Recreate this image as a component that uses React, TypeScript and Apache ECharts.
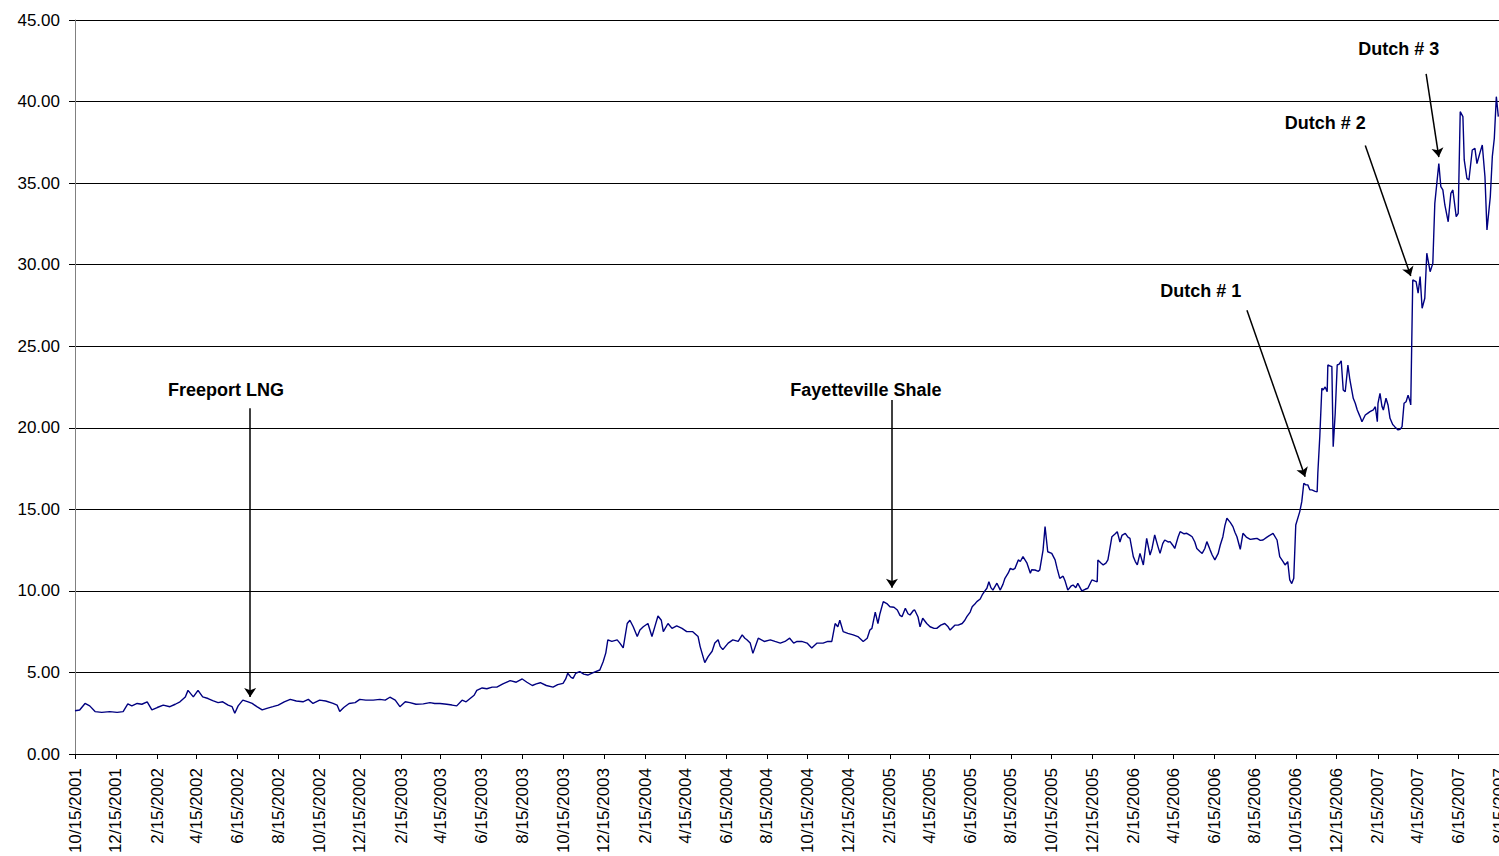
import React, { useEffect, useRef } from "react";
import * as echarts from "echarts";

const START = Date.UTC(2001, 9, 15);
const DAY = 86400000;
const END_DAY = 2130; // 8/15/2007

// observations: [days since 10/15/2001, price]
const obs2001_2002: [number, number][] = [[0,2.65],[7,2.7],[15,3.1],[22,2.95],[30,2.6],[40,2.55],[52,2.6],[63,2.55],[72,2.6],[79,3.07],[85,2.95],[93,3.1],[100,3.05],[108,3.2],[115,2.7],[123,2.85],[132,3.0],[142,2.9],[150,3.05],[157,3.2],[165,3.5],[169,3.9],[177,3.5],[184,3.9],[191,3.5],[199,3.4],[206,3.27],[214,3.15],[221,3.2],[229,3.0],[235,2.9],[239,2.5],[244,2.95],[251,3.3],[259,3.2],[265,3.1],[272,2.9],[280,2.7],[287,2.8],[296,2.9],[304,3.0],[313,3.2],[322,3.35],[331,3.25],[341,3.2],[349,3.35],[356,3.1],[366,3.3],[375,3.25],[386,3.1],[392,3.0],[396,2.6],[402,2.85],[410,3.1],[419,3.15],[426,3.35],[435,3.3]];

const obs2003: [number, number][] = [[446,3.3],[456,3.35],[464,3.3],[471,3.48],[479,3.3],[486,2.9],[494,3.2],[501,3.15],[510,3.05],[521,3.07],[531,3.15],[538,3.1],[546,3.1],[556,3.05],[564,3.0],[571,2.95],[579,3.3],[585,3.2],[591,3.4],[597,3.6],[601,3.9],[609,4.05],[616,4.0],[624,4.1],[631,4.1],[640,4.3],[651,4.5],[660,4.4],[669,4.6],[676,4.4],[684,4.2],[690,4.3],[696,4.37],[705,4.2],[715,4.1],[722,4.25],[730,4.33],[734,4.6],[737,4.95],[742,4.7],[745,4.64],[749,4.95],[755,5.05],[761,4.9],[767,4.84],[776,5.0],[785,5.15],[790,5.66],[794,6.2],[797,7.0]];

const obs2004: [number, number][] = [[803,6.9],[811,7.0],[815,6.8],[820,6.5],[826,8.0],[830,8.2],[835,7.8],[841,7.2],[845,7.6],[850,7.8],[857,8.0],[863,7.2],[868,7.9],[872,8.46],[877,8.2],[880,7.5],[887,8.0],[893,7.7],[900,7.85],[908,7.7],[915,7.5],[924,7.5],[932,7.2],[935,6.6],[938,6.17],[942,5.6],[947,5.97],[953,6.3],[957,6.8],[962,7.0],[965,6.6],[969,6.4],[977,6.8],[984,7.0],[992,6.9],[998,7.3],[1002,7.1],[1005,7.0],[1010,6.8],[1014,6.17],[1022,7.1],[1031,6.9],[1040,7.0],[1047,6.9],[1055,6.8],[1062,6.9],[1069,7.1],[1075,6.8],[1080,6.9],[1087,6.9],[1095,6.8],[1102,6.5],[1110,6.8],[1119,6.8],[1126,6.9],[1132,6.9],[1137,8.0],[1141,7.8],[1144,8.2],[1149,7.5],[1156,7.4],[1164,7.3]];

const obs2005: [number, number][] = [[1171,7.2],[1179,6.9],[1185,7.1],[1189,7.6],[1192,7.7],[1197,8.7],[1201,8.0],[1204,8.6],[1209,9.34],[1215,9.2],[1219,9.03],[1225,9.0],[1230,8.83],[1234,8.5],[1237,8.42],[1242,8.93],[1246,8.6],[1249,8.52],[1254,8.8],[1256,8.83],[1261,8.4],[1264,7.8],[1268,8.32],[1274,8.0],[1279,7.8],[1285,7.7],[1289,7.7],[1295,7.9],[1301,8.0],[1306,7.8],[1309,7.6],[1316,7.9],[1321,7.9],[1327,8.0],[1331,8.2],[1334,8.42],[1339,8.7],[1342,9.03],[1346,9.2],[1349,9.34],[1354,9.5],[1357,9.75],[1361,10.0],[1364,10.16],[1367,10.56],[1370,10.2],[1373,10.05],[1379,10.47],[1384,10.05],[1388,10.4],[1391,10.77],[1396,11.1],[1399,11.38],[1403,11.3],[1406,11.38],[1411,11.9],[1414,11.8],[1418,12.1],[1421,11.9],[1424,11.7],[1429,11.08],[1431,11.3],[1436,11.28],[1441,11.2],[1443,11.28],[1448,12.5],[1451,13.94],[1455,12.4],[1461,12.3],[1466,11.9],[1469,11.38],[1473,10.77],[1478,10.9],[1481,10.6],[1485,10.05],[1490,10.3],[1493,10.36],[1497,10.2],[1500,10.46],[1506,10.0],[1511,10.1],[1515,10.16],[1521,10.67],[1526,10.6],[1529,10.56]];

const obs2006: [number, number][] = [[1530,11.9],[1535,11.7],[1538,11.59],[1542,11.7],[1545,11.9],[1548,12.6],[1551,13.32],[1556,13.5],[1559,13.63],[1563,13.0],[1566,13.4],[1571,13.53],[1575,13.3],[1578,13.22],[1583,12.1],[1586,11.8],[1589,11.59],[1593,12.3],[1598,11.59],[1603,13.22],[1608,12.2],[1611,12.6],[1615,13.43],[1620,12.7],[1623,12.3],[1627,12.9],[1630,13.12],[1635,13.0],[1638,13.02],[1642,12.8],[1645,12.6],[1650,13.3],[1653,13.63],[1659,13.5],[1663,13.53],[1668,13.4],[1671,13.32],[1675,13.0],[1678,12.6],[1683,12.4],[1686,12.3],[1690,12.6],[1693,13.02],[1698,12.5],[1701,12.2],[1705,11.9],[1710,12.3],[1713,12.8],[1717,13.32],[1720,14.0],[1723,14.45],[1728,14.2],[1732,13.94],[1735,13.6],[1738,13.32],[1743,12.55],[1747,13.53],[1752,13.3],[1758,13.16],[1764,13.2],[1768,13.22],[1773,13.1],[1777,13.12],[1783,13.3],[1787,13.4],[1792,13.53],[1798,13.12],[1802,12.1],[1807,11.8],[1810,11.59],[1814,11.79],[1817,10.67],[1820,10.45],[1823,10.77],[1826,14.04],[1832,14.86],[1835,15.47],[1838,16.6],[1841,16.5],[1844,16.5],[1847,16.2],[1850,16.19],[1855,16.1],[1858,16.08],[1859,17.21],[1862,19.5],[1865,22.42],[1867,22.32],[1870,22.5],[1873,22.21],[1874,23.85],[1877,23.8],[1880,23.75],[1882,18.84],[1885,20.89],[1888,23.85],[1891,23.9],[1894,24.11],[1897,22.32],[1900,22.21]];

const obs2007: [number, number][] = [[1904,23.85],[1907,22.93],[1912,21.81],[1915,21.5],[1918,21.09],[1922,20.7],[1925,20.37],[1930,20.78],[1934,20.9],[1937,20.99],[1942,21.1],[1945,21.29],[1948,20.37],[1949,21.5],[1952,22.11],[1955,21.3],[1957,21.09],[1961,21.81],[1964,21.4],[1967,20.58],[1971,20.2],[1974,20.07],[1979,19.87],[1982,19.9],[1985,20.07],[1988,21.5],[1991,21.6],[1994,22.0],[1997,21.6],[1998,21.4],[2001,29.06],[2006,28.96],[2009,28.25],[2012,29.27],[2015,27.33],[2019,27.94],[2022,30.7],[2027,29.57],[2031,30.08],[2034,33.76],[2037,34.98],[2040,36.2],[2043,34.78],[2046,34.58],[2049,33.66],[2054,32.63],[2058,34.37],[2061,34.58],[2066,32.94],[2069,33.15],[2072,39.38],[2076,39.08],[2078,36.42],[2082,35.29],[2085,35.19],[2090,37.03],[2094,37.13],[2097,36.2],[2102,36.93],[2105,37.34],[2109,35.39],[2112,32.13],[2117,34.17],[2120,36.62],[2123,37.75],[2126,40.3],[2129,39.08]];

// annotations: text, label anchor [day, value], arrow from [day, value] to [day, value]
const annotationTexts = ["Freeport LNG", "Fayetteville Shale", "Dutch # 1", "Dutch # 2", "Dutch # 3"];
const annotationLabelAt: [number, number][] = [[226, 22.3], [1183, 22.3], [1684, 28.4], [1870, 38.7], [1980, 43.2]];
const annotationArrowFrom: [number, number][] = [[262, 21.2], [1222, 21.7], [1753, 27.2], [1930, 37.3], [2021, 41.7]];
const annotationArrowTo: [number, number][] = [[262, 3.5], [1222, 10.2], [1840, 17.0], [1998, 29.3], [2040, 36.6]];

const FONT = "'Liberation Sans', Arial, Helvetica, sans-serif";

function dayToLabel(v: number): string {
  const d = new Date(START + Math.round(v) * DAY);
  return `${d.getUTCMonth() + 1}/${d.getUTCDate()}/${d.getUTCFullYear()}`;
}

export default function App() {
  const ref = useRef<HTMLDivElement>(null);
  useEffect(() => {
    if (!ref.current) return;
    document.documentElement.style.overflow = "hidden";
    document.body.style.overflow = "hidden";
    document.body.style.margin = "0";
    const chart = echarts.init(ref.current, null, { renderer: "svg", width: 1499, height: 856 });
    const data = [...obs2001_2002, ...obs2003, ...obs2004, ...obs2005, ...obs2006, ...obs2007];
    const tickDays: number[] = [];
    for (let i = 0; ; i++) {
      const t = Date.UTC(2001, 9 + 2 * i, 15);
      const d = Math.round((t - START) / DAY);
      if (d > END_DAY) break;
      tickDays.push(d);
    }
    chart.setOption({
      animation: false,
      grid: { left: 75, right: 0, top: 20, bottom: 102, containLabel: false, outerBoundsMode: "none" },
      xAxis: {
        type: "value",
        min: 0,
        max: END_DAY,
        axisLine: { show: true, lineStyle: { color: "#000", width: 1 } },
        axisTick: { show: true, customValues: tickDays, length: 5, lineStyle: { color: "#000" } },
        axisLabel: {
          customValues: tickDays,
          rotate: 90,
          margin: 14,
          fontSize: 17,
          fontFamily: FONT,
          color: "#000",
          formatter: (v: number) => dayToLabel(v),
          showMinLabel: true,
          showMaxLabel: true,
          hideOverlap: false,
        },
        splitLine: { show: false },
      },
      yAxis: {
        type: "value",
        min: 0,
        max: 45,
        interval: 5,
        axisLine: { show: true, lineStyle: { color: "#808080", width: 1 } },
        axisTick: { show: true, length: 6, lineStyle: { color: "#000" } },
        axisLabel: {
          margin: 15,
          fontSize: 17,
          fontFamily: FONT,
          color: "#000",
          formatter: (v: number) => v.toFixed(2),
        },
        splitLine: { show: true, lineStyle: { color: "#000", width: 1 } },
      },
      series: [
        {
          type: "line",
          data,
          showSymbol: false,
          symbol: "none",
          lineStyle: { color: "#000080", width: 1.4 },
          itemStyle: { color: "#000080" },
          silent: true,
          markLine: {
            silent: true,
            symbol: ["none", "arrow"],
            symbolSize: 9,
            label: { show: false },
            lineStyle: { color: "#000", width: 1.5, type: "solid" },
            emphasis: { disabled: true },
            data: annotationArrowFrom.map((f, i) => [
              { coord: f },
              { coord: annotationArrowTo[i] },
            ]),
          },
          markPoint: {
            silent: true,
            symbol: "circle",
            symbolSize: 1,
            itemStyle: { color: "rgba(0,0,0,0)" },
            label: {
              show: true,
              position: "inside",
              formatter: "{b}",
              fontSize: 18,
              fontWeight: "bold",
              fontFamily: FONT,
              color: "#000",
            },
            data: annotationTexts.map((t, i) => ({ name: t, coord: annotationLabelAt[i] })),
          },
        },
      ],
    });
    return () => chart.dispose();
  }, []);
  return (
    <div
      ref={ref}
      style={{ position: "fixed", left: 0, top: 0, width: 1499, height: 856, background: "#fff" }}
    />
  );
}
